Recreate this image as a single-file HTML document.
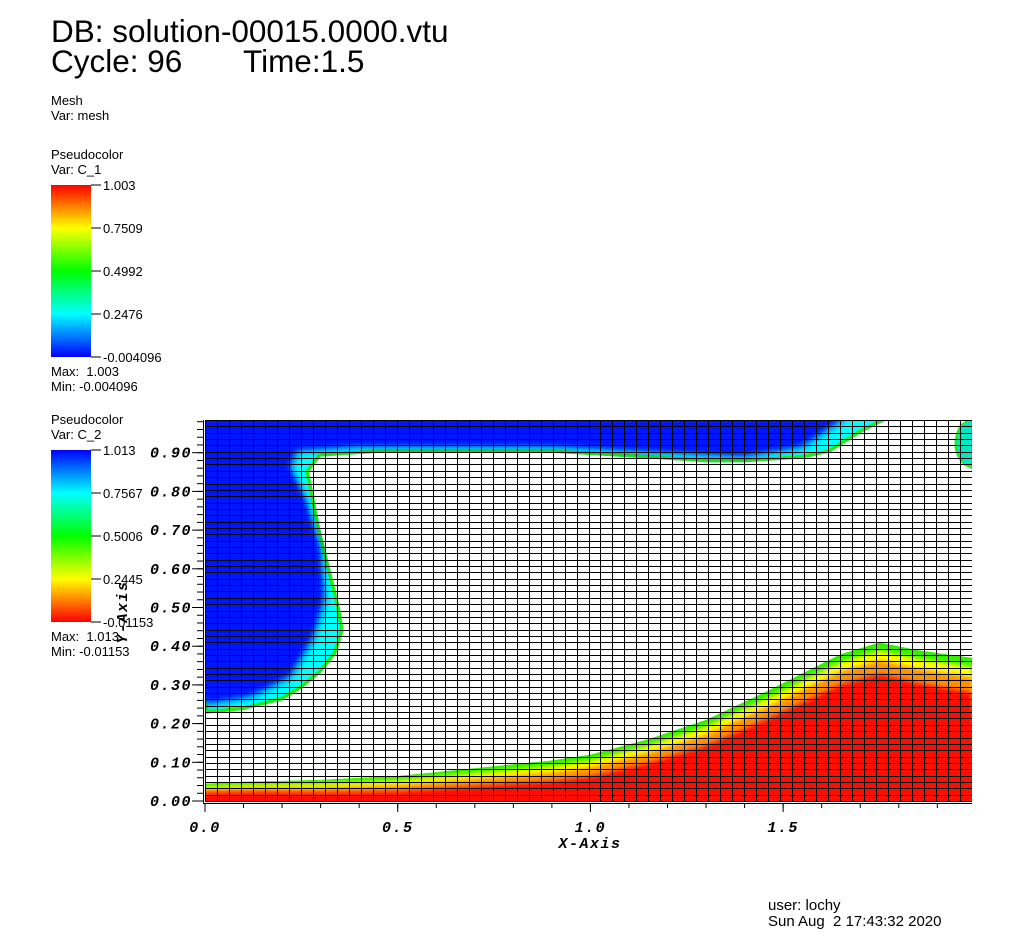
<!DOCTYPE html>
<html><head><meta charset="utf-8">
<style>
body{margin:0;background:#fff;width:1024px;height:946px;overflow:hidden;font-family:"Liberation Sans",sans-serif;}
svg{position:absolute;left:0;top:0}
.s{font-size:13px;fill:#000}
.ax{font-family:"Liberation Mono",monospace;font-weight:bold;font-style:italic;font-size:15px;letter-spacing:1.5px;fill:#000}
</style></head><body>
<svg id="c" width="1024" height="946">
<defs>
<linearGradient id="g1" x1="0" y1="0" x2="0" y2="1"><stop offset="0" stop-color="#f00"/><stop offset="0.25" stop-color="#ff0"/><stop offset="0.5" stop-color="#0f0"/><stop offset="0.75" stop-color="#0ff"/><stop offset="1" stop-color="#00f"/></linearGradient>
<linearGradient id="g2" x1="0" y1="0" x2="0" y2="1"><stop offset="0" stop-color="#00f"/><stop offset="0.25" stop-color="#0ff"/><stop offset="0.5" stop-color="#0f0"/><stop offset="0.75" stop-color="#ff0"/><stop offset="1" stop-color="#f00"/></linearGradient>
<filter id="bl" x="-20%" y="-20%" width="140%" height="140%"><feGaussianBlur stdDeviation="4"/></filter>
<filter id="bl2" x="-20%" y="-20%" width="140%" height="140%"><feGaussianBlur stdDeviation="2.5"/></filter>
</defs>
<text x="51" y="42" font-size="31.5">DB: solution-00015.0000.vtu</text>
<text x="51" y="72" font-size="31.5" xml:space="preserve">Cycle: 96       Time:1.5</text>
<text x="51" y="105" class="s">Mesh</text>
<text x="51" y="120" class="s">Var: mesh</text>
<text x="51" y="159" class="s">Pseudocolor</text>
<text x="51" y="174" class="s">Var: C_1</text>
<rect x="51" y="185" width="40" height="172" fill="url(#g1)"/>
<text x="51" y="376" class="s" xml:space="preserve">Max:  1.003</text>
<text x="51" y="391" class="s">Min: -0.004096</text>
<text x="51" y="424" class="s">Pseudocolor</text>
<text x="51" y="439" class="s">Var: C_2</text>
<rect x="51" y="450" width="40" height="172" fill="url(#g2)"/>
<text x="51" y="641" class="s" xml:space="preserve">Max:  1.013</text>
<text x="51" y="656" class="s">Min: -0.01153</text>
<text x="768" y="910" font-size="15">user: lochy</text>
<text x="768" y="926" font-size="15" xml:space="preserve">Sun Aug  2 17:43:32 2020</text>
<g id="cb"></g>
<clipPath id="pc"><rect x="205" y="420" width="767" height="382"/></clipPath>
<g id="plot" clip-path="url(#pc)"></g>
<g id="axes"></g>
</svg>
<script>
const c1Ticks=["1.003","0.7509","0.4992","0.2476","-0.004096"];
const c2Ticks=["1.013","0.7567","0.5006","0.2445","-0.01153"];
const xTicks=[0.0,0.5,1.0,1.5];
const yTicks=[0.0,0.1,0.2,0.3,0.4,0.5,0.6,0.7,0.8,0.9];
const bottomX=[0,0.1,0.3,0.5,0.7,0.9,1.0,1.15,1.3,1.45,1.55,1.65,1.75,1.85,1.99];
const bottomY=[0.045,0.05,0.055,0.065,0.085,0.105,0.12,0.16,0.21,0.28,0.33,0.38,0.41,0.39,0.37];
const topEdgeX=[0,0.1,0.2,0.25,0.3,0.34,0.36,0.35,0.33,0.3,0.28,0.27,0.3,0.45,0.9,1.15,1.3,1.4,1.55,1.62,1.7,1.78];
const topEdgeY=[0.225,0.235,0.26,0.29,0.33,0.38,0.44,0.5,0.58,0.7,0.8,0.85,0.89,0.9,0.9,0.885,0.875,0.875,0.885,0.9,0.95,0.99];
const blueX=[0,0.12,0.22,0.28,0.31,0.3,0.26,0.22,0.24,0.4,0.9,1.2,1.4,1.55,1.66];
const blueY=[0.25,0.27,0.32,0.42,0.52,0.65,0.78,0.86,0.905,0.915,0.915,0.9,0.89,0.915,0.99];
const NS="http://www.w3.org/2000/svg";
const X0=205,X1=972,XMAX=1.99,Y0=801,PY=387;
const sx=v=>X0+v*(X1-X0)/XMAX, sy=v=>Y0-v*PY;
function el(t,a,p){const e=document.createElementNS(NS,t);for(const k in a)e.setAttribute(k,a[k]);p.appendChild(e);return e;}
const svg=document.getElementById('c');
const cb=document.getElementById('cb');
function bar(ticks,top,name){ticks.forEach((t,i)=>{const y=top+i*172/4;
 const l=el('line',{x1:91,x2:101,y1:y,y2:y,stroke:'#000'},cb);
 
 
 const tx=el('text',{x:103,y:y+5,'class':'s'},cb);tx.textContent=t;
 
 });}
bar(c1Ticks,185,'c1');bar(c2Ticks,450,'c2');
const plot=document.getElementById('plot');
function pts(xs,ys,dy){return xs.map((x,i)=>sx(x)+','+(sy(ys[i])+(dy?dy(x):0))).join(' ');}
const tp=pts(topEdgeX,topEdgeY)+' '+sx(1.78)+',410 200,410';
const cp=el('clipPath',{id:'tclip'},svg);el('polygon',{points:tp},cp);
const tg=el('g',{'clip-path':'url(#tclip)'},plot);


el('polygon',{points:tp,fill:'#00ffff',stroke:'#20ee10','stroke-width':7,'stroke-linejoin':'round'},tg);
const bp=pts(blueX,blueY)+' '+sx(1.66)+',400 190,400';
el('polygon',{points:bp,fill:'#0018ff',filter:'url(#bl)'},tg);
el('polygon',{points:bp,fill:'#0018ff',filter:'url(#bl2)',transform:'translate(-4,-4)'},tg);
const blob=el('path',{d:`M972,${sy(0.99)} L${sx(1.96)},${sy(0.97)} Q${sx(1.93)},${sy(0.91)} ${sx(1.97)},${sy(0.87)} L972,${sy(0.86)} Z`,fill:'#00e8c0',stroke:'#20ee10','stroke-width':2},plot);


const bpStr=pts(bottomX,bottomY)+' 980,810 195,810';
const cp2=el('clipPath',{id:'bclip'},svg);el('polygon',{points:bpStr},cp2);
const bg=el('g',{'clip-path':'url(#bclip)'},plot);


el('polygon',{points:bpStr,fill:'#30f000'},bg);
el('polygon',{points:pts(bottomX,bottomY,x=>3+3*x)+' 980,810 195,810',fill:'#ffff00',filter:'url(#bl2)'},bg);
el('polygon',{points:pts(bottomX,bottomY,x=>6+7*x)+' 980,810 195,810',fill:'#ff9000',filter:'url(#bl2)'},bg);
el('polygon',{points:pts(bottomX,bottomY,x=>9+13*x)+' 980,810 195,810',fill:'#ff0800',filter:'url(#bl2)'},bg);
const mg=el('g',{stroke:'#000','stroke-width':1,'shape-rendering':'crispEdges'},plot);


for(let i=0;i<=64;i++){const x=Math.round(205+i*767/64)+0.5;el('line',{x1:x,x2:x,y1:420,y2:802},mg);}
for(let j=0;j<=60;j++){const y=Math.round(801-j*381/60)+0.5;el('line',{x1:205,x2:972,y1:y,y2:y},mg);}
const ax=document.getElementById('axes');
el('line',{x1:203.5,x2:203.5,y1:420,y2:803,stroke:'#000'},ax);
el('line',{x1:203,x2:972,y1:803.5,y2:803.5,stroke:'#000'},ax);
for(let v=0;v<=XMAX+1e-6;v+=0.1){const x=sx(v);el('line',{x1:x,x2:x,y1:803,y2:808,stroke:'#000'},ax);}
for(let v=0;v<=0.985;v+=0.02){const y=sy(v);el('line',{x1:197,x2:203,y1:y,y2:y,stroke:'#000'},ax);}
xTicks.forEach(v=>{const x=sx(v);el('line',{x1:x,x2:x,y1:803,y2:812,stroke:'#000'},ax);
 const t=el('text',{x:x,y:832,'class':'ax','text-anchor':'middle'},ax);t.textContent=v.toFixed(1);
 
 });
yTicks.forEach(v=>{const y=sy(v);el('line',{x1:192,x2:203,y1:y,y2:y,stroke:'#000'},ax);
 const t=el('text',{x:192,y:y+5,'class':'ax','text-anchor':'end'},ax);t.textContent=v.toFixed(2);
 
 });
const xt=el('text',{x:590,y:848,'class':'ax','text-anchor':'middle'},ax);xt.textContent='X-Axis';


const yt=el('text',{x:0,y:0,'class':'ax','text-anchor':'middle',transform:'translate(127,612) rotate(-90)'},ax);yt.textContent='Y-Axis';


</script>
</body></html>
